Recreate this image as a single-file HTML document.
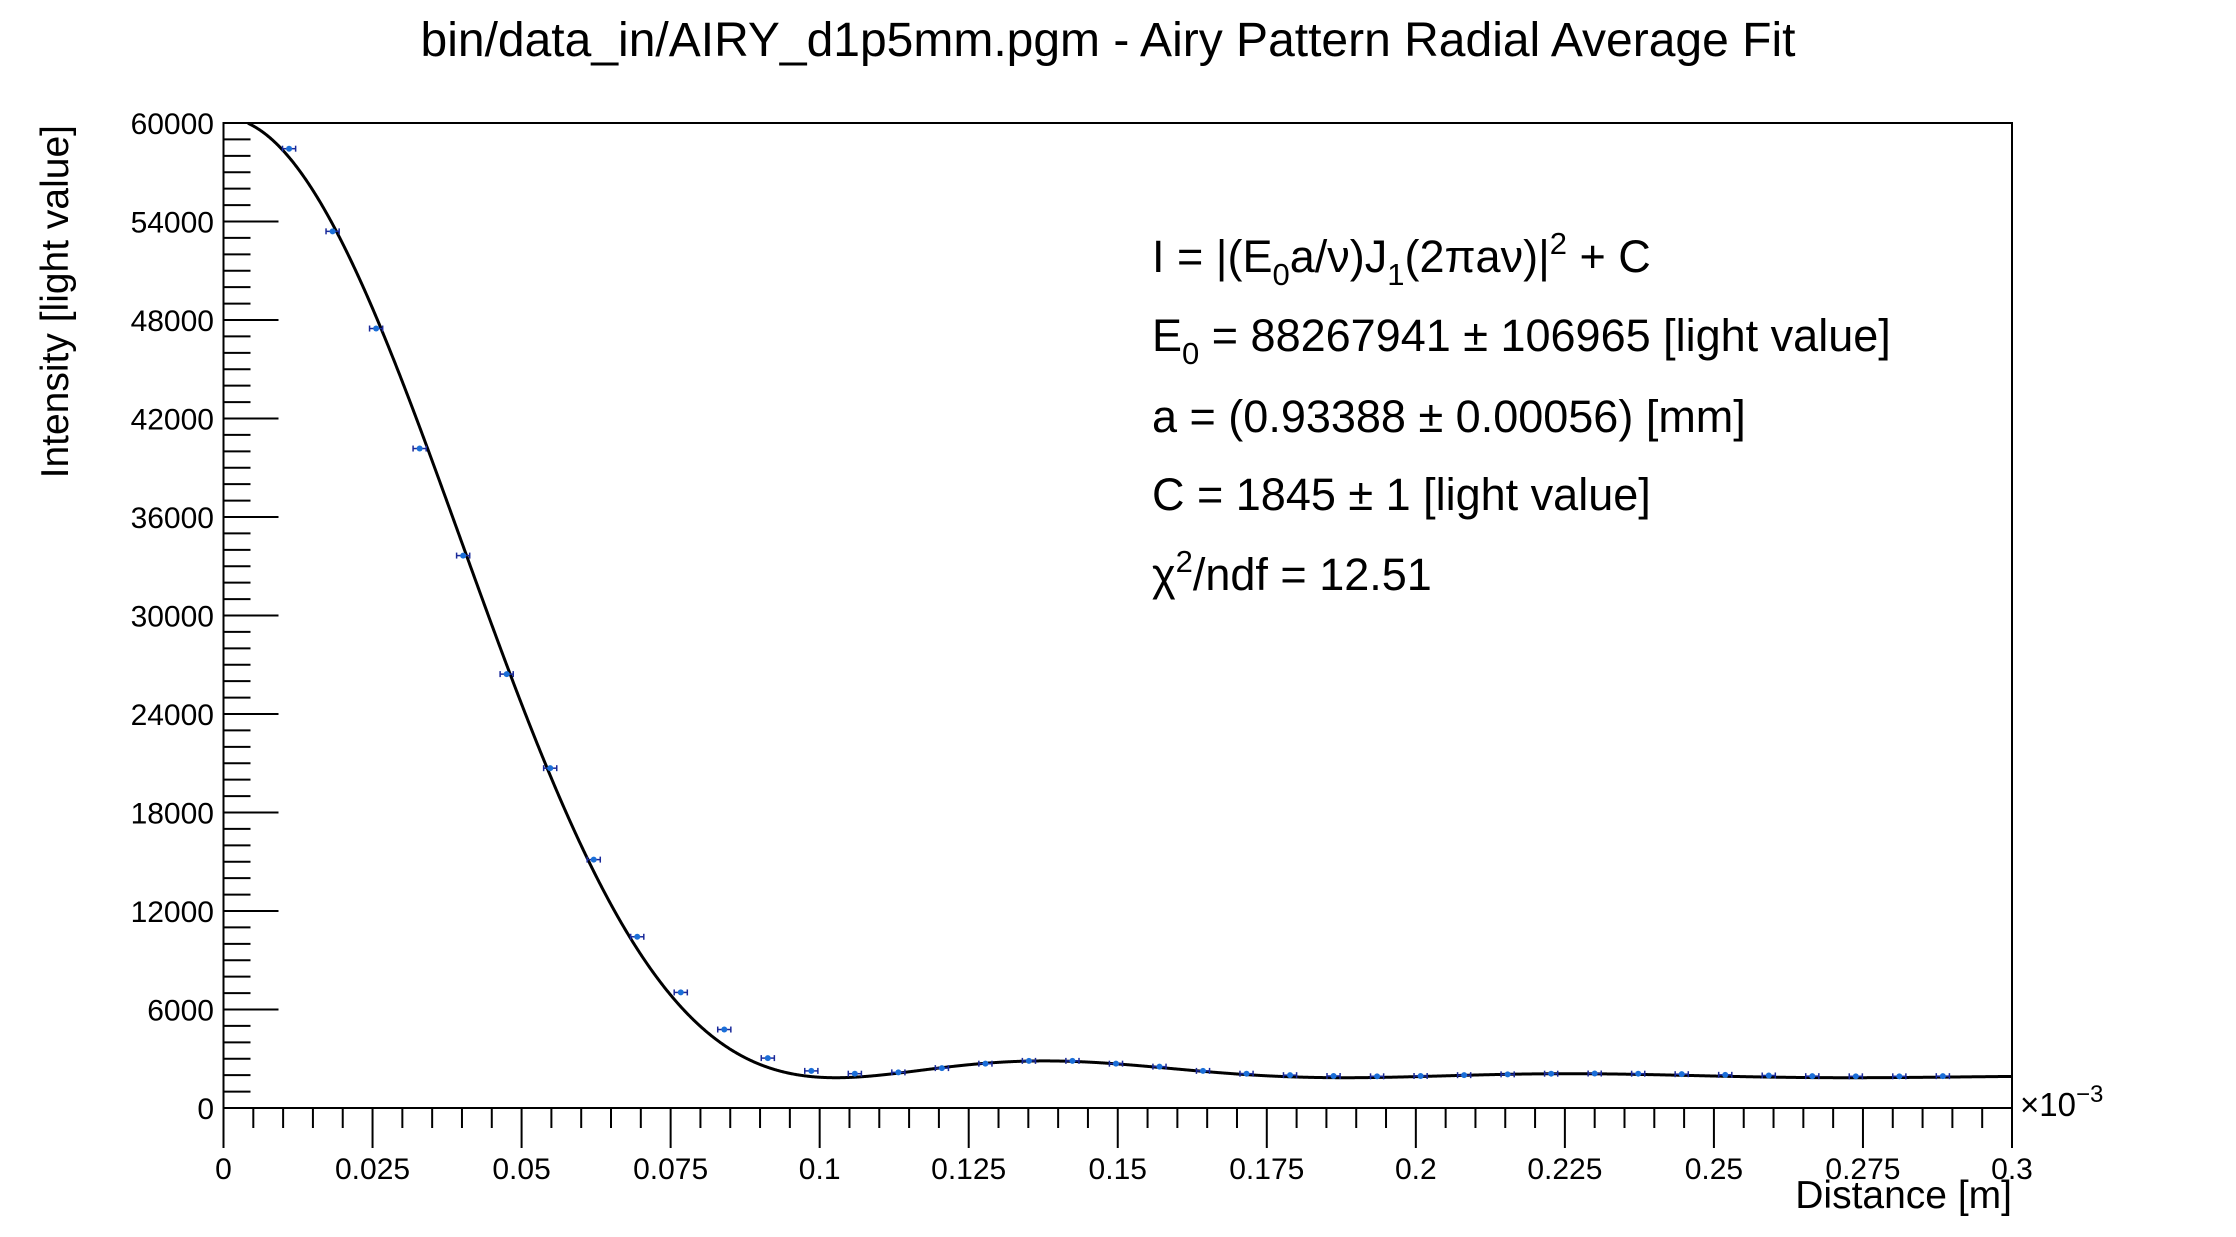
<!DOCTYPE html>
<html><head><meta charset="utf-8"><style>
html,body{margin:0;padding:0;background:#fff;}
svg text{font-family:"Liberation Sans",sans-serif;fill:#000;}
</style></head><body>
<svg id="chart" width="2236" height="1232" viewBox="0 0 2236 1232" xmlns="http://www.w3.org/2000/svg">
<rect width="2236" height="1232" fill="#fff"/>
<text x="1108" y="56" font-size="48" text-anchor="middle">bin/data_in/AIRY_d1p5mm.pgm - Airy Pattern Radial Average Fit</text>
<g id="axes"></g>
<g id="series"></g>
<g font-size="45">
<text x="1152" y="272">I = |(E<tspan font-size="31" dy="13">0</tspan><tspan dy="-13">a/ν)J</tspan><tspan font-size="31" dy="13">1</tspan><tspan dy="-13">(2πaν)|</tspan><tspan font-size="31" dy="-18">2</tspan><tspan dy="18"> + C</tspan></text>
<text x="1152" y="351">E<tspan font-size="31" dy="13">0</tspan><tspan dy="-13"> = 88267941 ± 106965 [light value]</tspan></text>
<text x="1152" y="432">a = (0.93388 ± 0.00056) [mm]</text>
<text x="1152" y="510">C = 1845 ± 1 [light value]</text>
<text x="1152" y="590">χ<tspan font-size="31" dy="-18">2</tspan><tspan dy="18">/ndf = 12.51</tspan></text>
</g>
<text transform="translate(68,125) rotate(-90)" font-size="39" text-anchor="end">Intensity [light value]</text>
<text x="2012" y="1208" font-size="39" text-anchor="end">Distance [m]</text>
<text x="2020" y="1116" font-size="33">×10<tspan font-size="24" dy="-14">−3</tspan></text>
</svg>
<script>
const xTicks=[0,0.025,0.05,0.075,0.1,0.125,0.15,0.175,0.2,0.225,0.25,0.275,0.3];
const xTickLabels=["0","0.025","0.05","0.075","0.1","0.125","0.15","0.175","0.2","0.225","0.25","0.275","0.3"];
const yTicks=[0,6000,12000,18000,24000,30000,36000,42000,48000,54000,60000];
const distances=[0.011,0.0183,0.0256,0.0329,0.0402,0.0475,0.0548,0.0621,0.0694,0.0767,0.084,0.0913,0.0986,0.1059,0.1132,0.1205,0.1278,0.1351,0.1424,0.1497,0.157,0.1643,0.1716,0.1789,0.1862,0.1935,0.2008,0.2081,0.2154,0.2227,0.23,0.2373,0.2446,0.2519,0.2592,0.2665,0.2738,0.2811,0.2884];
const intensities=[58435,53400,47480,40170,33650,26430,20700,15130,10430,7040,4780,3040,2260,2090,2170,2430,2700,2870,2870,2700,2520,2260,2090,2000,1950,1930,1950,2000,2050,2090,2100,2090,2060,2020,1980,1940,1930,1930,1940];
const xErr=0.0011;
const fitAmp=58480, fitK=37.3, fitC=1845;

const L=223.5,R=2012,T=123,B=1108;
const X0=0,X1=0.3,Y0=0,Y1=60000;
const sx=v=>L+(v-X0)/(X1-X0)*(R-L);
const sy=v=>B-(v-Y0)/(Y1-Y0)*(B-T);
const NS="http://www.w3.org/2000/svg";
function mk(tag,attrs,parent){const e=document.createElementNS(NS,tag);for(const k in attrs)e.setAttribute(k,attrs[k]);parent.appendChild(e);return e;}
const axes=document.getElementById('axes');
const frame=mk('rect',{x:L,y:T,width:R-L,height:B-T,fill:'none',stroke:'#000','stroke-width':2},axes);


const xstep=0.005;
for(let i=0;i<=60;i++){const v=i*xstep;const x=sx(v);const major=i%5===0;
 const t=mk('line',{x1:x,y1:B,x2:x,y2:B+(major?40:20),stroke:'#000','stroke-width':2},axes);
 
 }
xTicks.forEach((v,i)=>{const t=mk('text',{x:sx(v),y:1179,'font-size':30,'text-anchor':'middle'},axes);t.textContent=xTickLabels[i];
 
 });
for(let i=0;i<=60;i++){const v=i*1000;const y=sy(v);const major=i%6===0;
 const t=mk('line',{x1:L,y1:y,x2:L+(major?55:27),y2:y,stroke:'#000','stroke-width':2},axes);
 
 }
yTicks.forEach(v=>{const t=mk('text',{x:214,y:sy(v)+11,'font-size':30,'text-anchor':'end'},axes);t.textContent=String(v);
 
 });
function J1(z){let s=0,term=z/2;for(let k=0;k<40;k++){s+=term;term*=-(z*z/4)/((k+1)*(k+2));}return s;}
function fit(x){const z=fitK*x;if(z<1e-9)return fitAmp+fitC;const r=2*J1(z)/z;return fitAmp*r*r+fitC;}
const ser=document.getElementById('series');
let d='';let started=false;
for(let i=0;i<=3000;i++){const x=X1*i/3000;const y=fit(x);if(y>Y1)continue;d+=(started?'L':'M')+sx(x).toFixed(2)+','+sy(y).toFixed(2);started=true;}
const curve=mk('path',{d:d,fill:'none',stroke:'#000','stroke-width':3},ser);


distances.forEach((xv,i)=>{const g=mk('g',{},ser);
 
 
 const cx=sx(xv),cy=sy(intensities[i]);
 const x1=sx(xv-xErr),x2=sx(xv+xErr);
 mk('line',{x1:x1,y1:cy,x2:x2,y2:cy,stroke:'#1a2a9a','stroke-width':1.5},g);
 mk('line',{x1:x1,y1:cy-3,x2:x1,y2:cy+3,stroke:'#1a2a9a','stroke-width':1.5},g);
 mk('line',{x1:x2,y1:cy-3,x2:x2,y2:cy+3,stroke:'#1a2a9a','stroke-width':1.5},g);
 mk('circle',{cx:cx,cy:cy,r:3,fill:'#1b6fd8'},g);});
</script>
</body></html>
